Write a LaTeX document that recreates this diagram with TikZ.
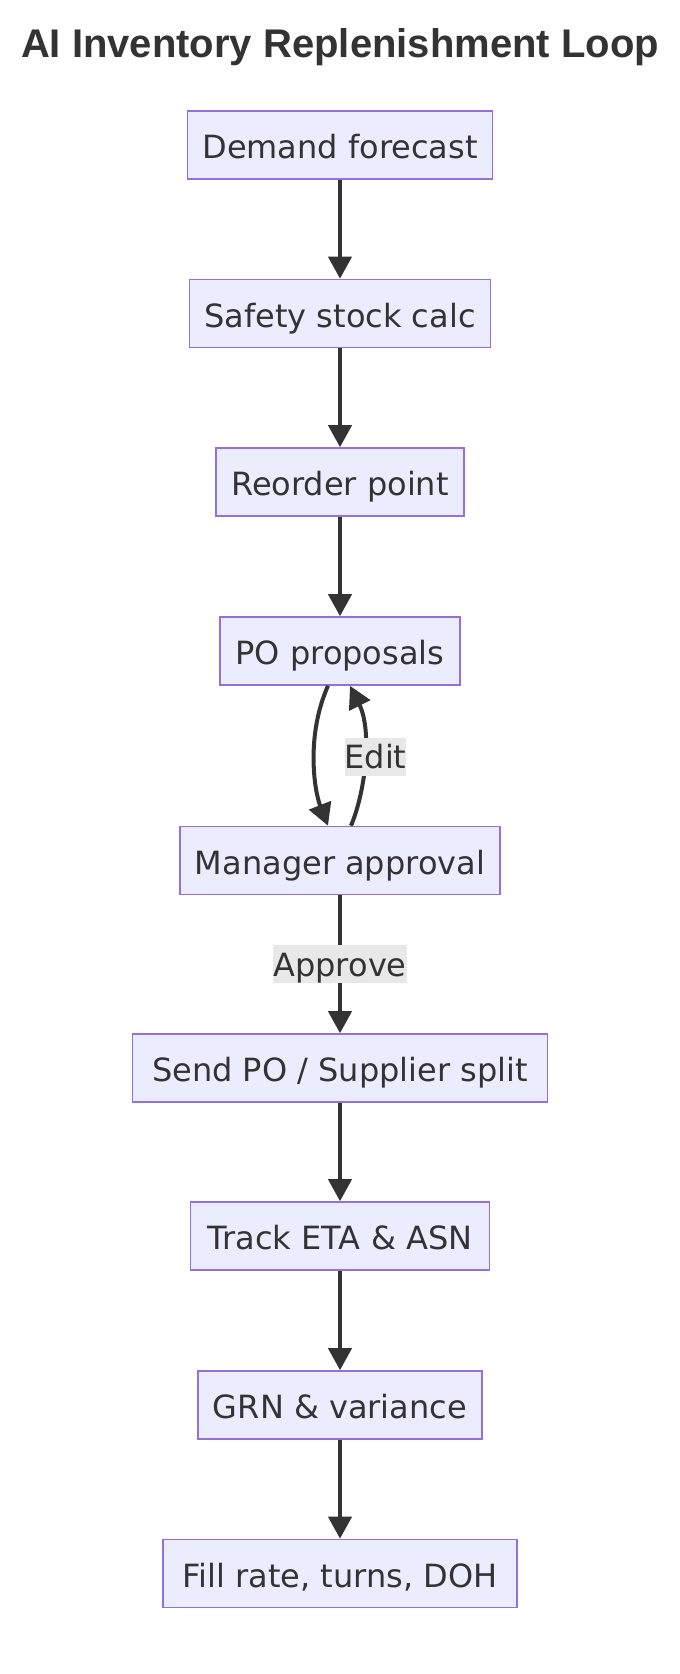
\documentclass[tikz,border=0pt]{standalone}
\usepackage{fontspec}
\setmainfont{DejaVu Sans}
\newfontfamily\titlefont{Liberation Sans}
\usetikzlibrary{arrows.meta}
\definecolor{nodefill}{HTML}{ECECFF}
\definecolor{nodeborder}{HTML}{9370DB}
\definecolor{ink}{HTML}{333333}
\definecolor{labelbg}{HTML}{E8E8E8}
\tikzset{
  flowbox/.style={draw=nodeborder, fill=nodefill, line width=1.6pt, text=ink,
    font=\fontsize{32}{38}\selectfont, minimum height=68pt, inner xsep=15pt, inner ysep=0pt,
    text height=30pt, text depth=3pt},
  flowedge/.style={draw=ink, line width=4pt, -{Triangle[width=23pt,length=22pt]}},
  edgelabel/.style={fill=labelbg, text=ink, font=\fontsize{32}{38}\selectfont,
    inner xsep=0pt, inner ysep=0pt, text height=31pt, text depth=7pt},
}
\begin{document}
\begin{tikzpicture}[x=1pt,y=-1pt]
\fill[white] (0,0) rectangle (680,1674);
\useasboundingbox (0,0) rectangle (680,1674);
\node[anchor=base, text=ink, font=\titlefont\bfseries\fontsize{40}{48}\selectfont] (title) at (340,57) {AI Inventory Replenishment Loop};

\node[flowbox, minimum width=304pt] (n1) at (340,145) {Demand forecast};
\node[flowbox, minimum width=300pt] (n2) at (340,313.5) {Safety stock calc};
\node[flowbox, minimum width=248pt] (n3) at (340,482) {Reorder point};
\node[flowbox, minimum width=240pt] (n4) at (340,651) {PO proposals};
\node[flowbox, minimum width=318pt] (n5) at (340,860.5) {Manager approval};
\node[flowbox, minimum width=415pt] (n6) at (340,1068) {Send PO / Supplier split};
\node[flowbox, minimum width=299pt] (n7) at (340,1236) {Track ETA \& ASN};
\node[flowbox, minimum width=281pt] (n8) at (340,1405) {GRN \& variance};
\node[flowbox, minimum width=354pt] (n9) at (340,1573.5) {Fill rate, turns, DOH};

\draw[flowedge] (n1) -- (n2);
\draw[flowedge] (n2) -- (n3);
\draw[flowedge] (n3) -- (n4);
\draw[flowedge] ([xshift=-12pt]n4.south) .. controls (306,735) and (314,790) .. ([xshift=-12pt]n5.north);
\draw[flowedge] ([xshift=11pt]n5.north) .. controls (366,790) and (372,730) .. ([xshift=10pt]n4.south);
\draw[flowedge] (n5) -- (n6);
\draw[flowedge] (n6) -- (n7);
\draw[flowedge] (n7) -- (n8);
\draw[flowedge] (n8) -- (n9);

\node[edgelabel] (edit) at (375.5,756.5) {Edit};
\node[edgelabel] (approve) at (340,964) {Approve};
\end{tikzpicture}
\end{document}
